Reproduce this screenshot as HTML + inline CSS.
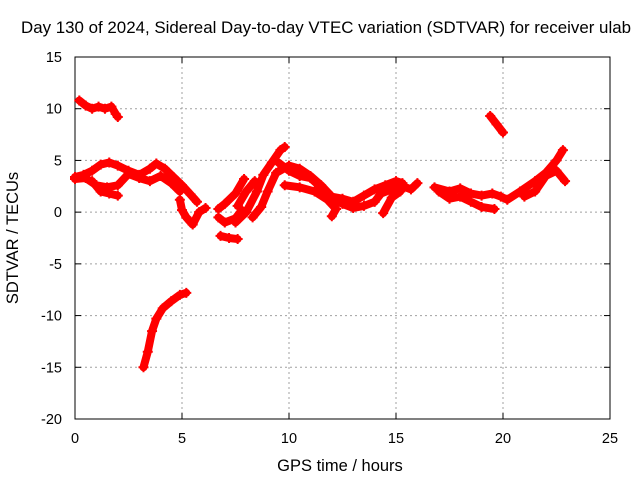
<!DOCTYPE html>
<html><head><meta charset="utf-8"><style>
body{margin:0;background:#fff;}
svg text{font-family:"Liberation Sans",sans-serif;font-size:14.5px;fill:#000;}
svg text.big{font-size:16.5px;}
</style></head><body>
<svg id="chart" width="640" height="480" xmlns="http://www.w3.org/2000/svg">
<rect width="640" height="480" fill="#fff"/>
<text class="big" x="326" y="33" text-anchor="middle" textLength="610" lengthAdjust="spacingAndGlyphs">Day 130 of 2024, Sidereal Day-to-day VTEC variation (SDTVAR) for receiver ulab</text>
<g id="grid"></g>
<g id="axes"></g>
<g id="series"></g>
<text class="big" x="340" y="471" text-anchor="middle">GPS time / hours</text>
<text class="big" transform="translate(18,238) rotate(-90)" text-anchor="middle">SDTVAR / TECUs</text>
</svg>
<script>
const xTicks=[0,5,10,15,20,25];
const yTicks=[15,10,5,0,-5,-10,-15,-20];
const trackA=[[0.2,10.8],[0.5,10.3],[0.8,10.0],[1.1,10.2],[1.4,10.0],[1.7,10.2],[1.9,9.5],[2.0,9.2]];
const trackB=[[0,3.4],[0.4,3.6],[0.8,4.0],[1.2,4.6],[1.6,4.8],[2.0,4.5],[2.5,4.0],[3.0,3.6],[3.5,4.2],[3.8,4.7],[4.2,4.2],[4.6,3.4],[5.0,2.6],[5.4,1.7],[5.7,1.0]];
const trackC=[[0,3.2],[0.5,3.3],[1.0,2.6],[1.5,2.4],[2.0,2.6],[2.5,3.7],[3.0,3.3],[3.5,3.0],[4.0,3.5],[4.5,2.8],[4.9,2.0]];
const trackC2=[[0.8,3.0],[1.2,2.0],[1.6,1.8],[2.0,1.6]];
const trackD=[[4.9,1.2],[5.0,0.2],[5.2,-0.5],[5.5,-1.2],[5.8,0.0],[6.1,0.4]];
const trackE1=[[6.7,-0.5],[7.0,-1.0],[7.5,-0.6],[7.8,0.2]];
const trackE2=[[6.7,0.3],[7.0,0.8],[7.5,1.8],[7.9,3.2]];
const trackE3=[[6.8,-2.3],[7.2,-2.5],[7.6,-2.6]];
const trackE4=[[7.5,-1.0],[8.0,0.0],[8.5,2.0],[8.8,3.6],[9.2,4.8],[9.6,6.0],[9.8,6.3]];
const trackE5=[[7.6,0.6],[8.0,2.0],[8.4,3.0]];
const trackF=[[8.3,-0.5],[8.7,0.5],[9.0,2.0],[9.4,3.8],[10.0,4.5],[10.5,4.2],[11.0,3.5],[11.5,2.6],[12.0,1.5],[12.5,1.3],[13.0,1.0],[13.5,1.6],[14.0,2.2],[14.5,2.6],[15.0,3.0],[15.3,2.8]];
const trackG=[[9.5,4.8],[10.0,4.0],[10.5,3.5],[11.0,3.3],[11.5,2.4],[12.0,1.4],[12.5,0.8],[13.0,0.4],[13.5,0.6],[14.0,1.0]];
const trackH=[[9.8,2.6],[10.5,2.4],[11.2,2.0],[11.8,1.2],[12.2,0.3],[12.0,-0.4]];
const trackI=[[14.0,1.0],[14.3,1.8],[14.8,2.2],[15.2,2.6],[15.7,2.2],[16.0,2.8]];
const trackJ=[[14.4,-0.1],[14.8,1.4],[15.2,2.0]];
const trackK=[[16.8,2.4],[17.5,2.0],[18.0,2.3],[18.5,1.8],[19.0,1.6],[19.5,1.8],[19.9,1.5],[20.2,1.2],[20.8,2.0],[21.5,3.0],[22.0,3.8],[22.5,5.0],[22.8,6.0]];
const trackK2=[[17.0,2.0],[17.5,1.3],[18.0,1.5],[18.5,1.0],[19.0,0.5],[19.6,0.3]];
const trackL=[[21.0,1.5],[21.5,2.0],[22.0,3.5],[22.5,4.0],[22.9,3.0]];
const trackM=[[19.4,9.3],[19.7,8.5],[20.0,7.7]];
const trackN=[[3.2,-15.0],[3.4,-13.5],[3.6,-11.5],[3.8,-10.3],[4.1,-9.3],[4.5,-8.6],[4.9,-8.0],[5.2,-7.8]];
const tracks=[trackA,trackB,trackC,trackC2,trackD,trackE1,trackE2,trackE3,trackE4,trackE5,trackF,trackG,trackH,trackI,trackJ,trackK,trackK2,trackL,trackM,trackN];

const X0=75,X1=610,Y0=57,Y1=419,xmin=0,xmax=25,ymin=-20,ymax=15;
const sx=t=>X0+(t-xmin)/(xmax-xmin)*(X1-X0);
const sy=v=>Y1-(v-ymin)/(ymax-ymin)*(Y1-Y0);
const NS="http://www.w3.org/2000/svg";
function mk(tag,attrs,parent){const e=document.createElementNS(NS,tag);for(const k in attrs)e.setAttribute(k,attrs[k]);parent.appendChild(e);return e;}
const grid=document.getElementById('grid'),axes=document.getElementById('axes'),ser=document.getElementById('series');
xTicks.forEach(t=>{const x=sx(t);
 if(t>xmin&&t<xmax){const l=mk('line',{x1:x,y1:Y0,x2:x,y2:Y1,stroke:'#a0a0a0','stroke-dasharray':'2,3'},grid);
 
 }
 mk('line',{x1:x,y1:Y1,x2:x,y2:Y1-6,stroke:'#000'},axes);
 mk('line',{x1:x,y1:Y0,x2:x,y2:Y0+6,stroke:'#000'},axes);
 const tx=mk('text',{x:x,y:Y1+24,'text-anchor':'middle'},axes);tx.textContent=t;
 
 });
yTicks.forEach(v=>{const y=sy(v);
 if(v>ymin&&v<ymax){const l=mk('line',{x1:X0,y1:y,x2:X1,y2:y,stroke:'#a0a0a0','stroke-dasharray':'2,3'},grid);
 
 }
 mk('line',{x1:X0,y1:y,x2:X0+6,y2:y,stroke:'#000'},axes);
 mk('line',{x1:X1,y1:y,x2:X1-6,y2:y,stroke:'#000'},axes);
 const tx=mk('text',{x:X0-13,y:y+5,'text-anchor':'end'},axes);tx.textContent=v;
 
 });
const fr=mk('rect',{x:X0,y:Y0,width:X1-X0,height:Y1-Y0,fill:'none',stroke:'#000','stroke-width':1},axes);


tracks.forEach(tr=>{
 const pl=mk('polyline',{points:tr.map(p=>sx(p[0])+','+sy(p[1])).join(' '),fill:'none',stroke:'#f00','stroke-width':8,'stroke-linejoin':'round','stroke-linecap':'round'},ser);
 
 
 tr.forEach(p=>{const x=sx(p[0]),y=sy(p[1]);
  const m=mk('path',{d:`M${x-5},${y}H${x+5}M${x},${y-5}V${y+5}`,stroke:'#f00','stroke-width':2},ser);
  
  });
});
</script>
</body></html>
